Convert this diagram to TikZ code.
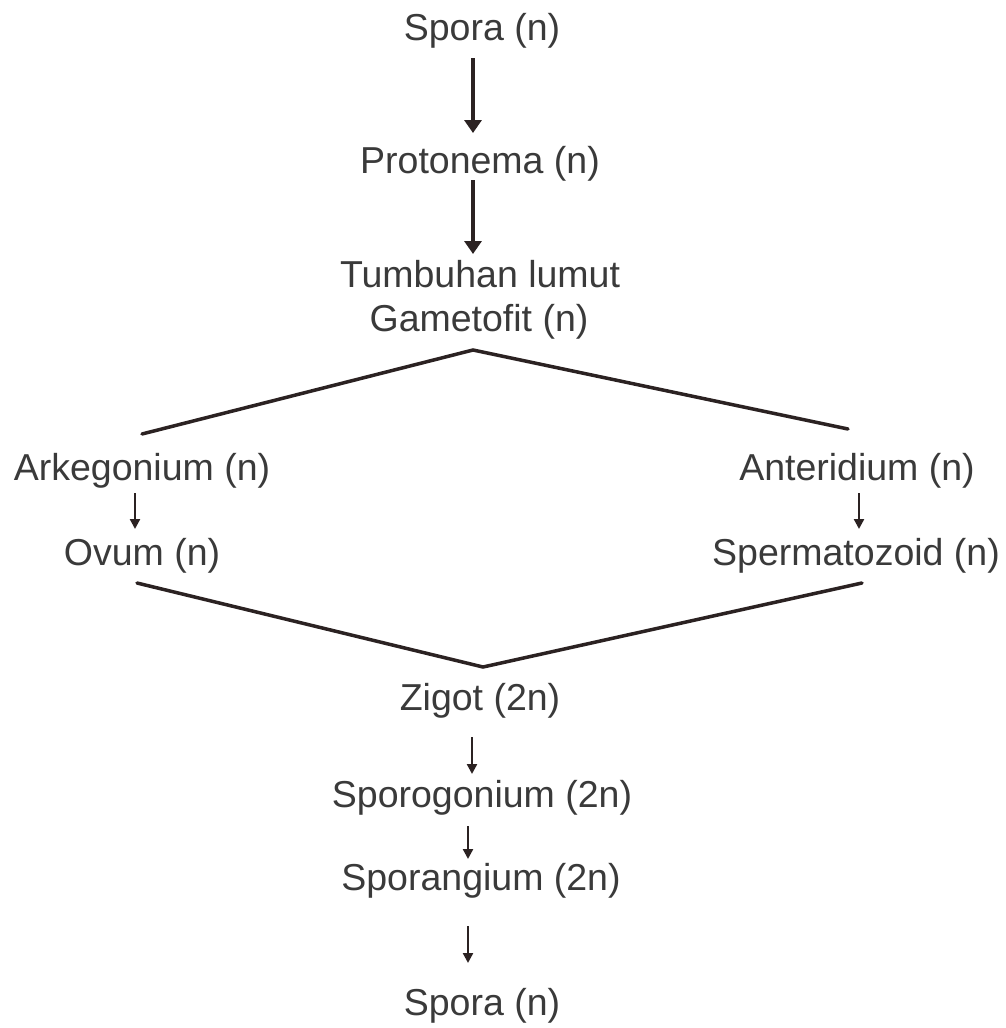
\documentclass[tikz,border=0pt]{standalone}
\usepackage{fontspec}
\setmainfont{Liberation Sans}
\usetikzlibrary{arrows.meta}
\definecolor{txt}{HTML}{3A3A3A}
\definecolor{ink}{HTML}{2B2222}
\begin{document}
\begin{tikzpicture}[x=1pt,y=-1pt,
  lbl/.style={anchor=base,inner sep=0pt,text=txt,font=\fontsize{37.5}{44}\selectfont},
  bigarrow/.style={draw=ink,line width=4.5pt,-{Triangle[width=17pt,length=13pt]}},
  smallarrow/.style={draw=ink,line width=2.3pt,-{Triangle[width=10pt,length=10pt]}},
  branch/.style={draw=ink,line width=3.5pt,line cap=round}]
\useasboundingbox[fill=white] (0,0) rectangle (1005,1028);
% labels
\node[lbl] (spA) at (482,40) {Spora (n)};
\node[lbl] (pro) at (480,173) {Protonema (n)};
\node[lbl] (tum) at (480,287) {Tumbuhan lumut};
\node[lbl] (gam) at (479,331) {Gametofit (n)};
\node[lbl] (ark) at (142,480) {Arkegonium (n)};
\node[lbl] (ovu) at (142,565) {Ovum (n)};
\node[lbl] (ant) at (857,480) {Anteridium (n)};
\node[lbl] (spe) at (856,565) {Spermatozoid (n)};
\node[lbl] (zig) at (480,710) {Zigot (2n)};
\node[lbl] (sgo) at (482,807) {Sporogonium (2n)};
\node[lbl] (sgi) at (481,890) {Sporangium (2n)};
\node[lbl] (spB) at (482,1015) {Spora (n)};
% connector end points
\coordinate (a1s) at (473,58);   \coordinate (a1e) at (473,133);
\coordinate (a2s) at (473,180);  \coordinate (a2e) at (473,254);
\coordinate (a3s) at (135,493);  \coordinate (a3e) at (135,529);
\coordinate (a4s) at (859,493);  \coordinate (a4e) at (859,529);
\coordinate (a5s) at (472,737);  \coordinate (a5e) at (472,774);
\coordinate (a6s) at (468,826);  \coordinate (a6e) at (468,859);
\coordinate (a7s) at (468,926);  \coordinate (a7e) at (468,963);
\coordinate (gtop) at (473,350);
\coordinate (arkL) at (142,434);
\coordinate (antL) at (848,429);
\coordinate (ovuL) at (137,583);
\coordinate (speL) at (862,583);
\coordinate (zbot) at (483,667);
% arrows
\draw[bigarrow] (a1s) -- (a1e);
\draw[bigarrow] (a2s) -- (a2e);
\draw[smallarrow] (a3s) -- (a3e);
\draw[smallarrow] (a4s) -- (a4e);
\draw[smallarrow] (a5s) -- (a5e);
\draw[smallarrow] (a6s) -- (a6e);
\draw[smallarrow] (a7s) -- (a7e);
% branches
\draw[branch] (arkL) -- (gtop) -- (antL);
\draw[branch] (ovuL) -- (zbot) -- (speL);
\end{tikzpicture}
\end{document}
